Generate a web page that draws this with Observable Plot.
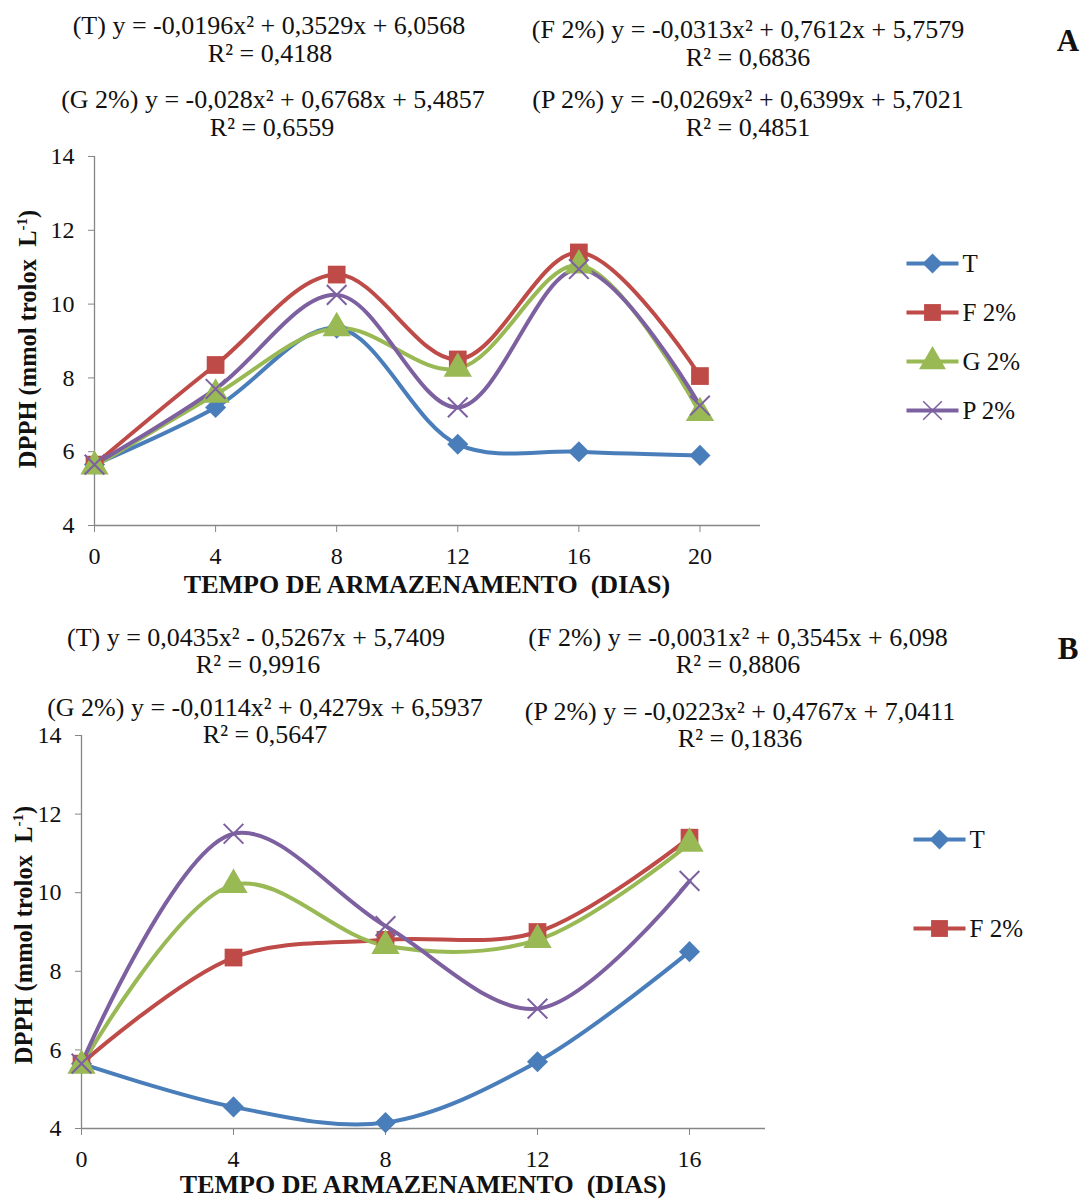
<!DOCTYPE html>
<html>
<head>
<meta charset="utf-8">
<script src="https://cdn.jsdelivr.net/npm/d3@7"></script>
<script src="https://cdn.jsdelivr.net/npm/@observablehq/plot@0.6"></script>
<style>
  html, body { margin: 0; padding: 0; background: #fff; }
  #page { position: relative; width: 1084px; height: 1200px; overflow: hidden; font-family: "Liberation Serif", "Times New Roman", serif; color: #111; }
  .ctr { position: absolute; transform: translate(-50%, -50%); white-space: nowrap; font-size: 26px; line-height: 1.1; z-index: 5; }
  .panel { position: absolute; transform: translate(-50%, -50%); font-weight: bold; font-size: 31px; line-height: 1; z-index: 5; }
  .xt { position: absolute; transform: translate(-50%, -50%); white-space: nowrap; font-weight: bold; font-size: 26px; line-height: 1; z-index: 5; }
  .yt { position: absolute; transform: translate(-50%, -50%) rotate(-90deg); white-space: nowrap; font-weight: bold; font-size: 24.5px; line-height: 1; z-index: 5; }
  .yt sup { font-size: 15px; }
</style>
</head>
<body>
<div id="page"></div>
<script>
// ---------- data ----------
const seriesNames = ["T", "F 2%", "G 2%", "P 2%"];
const seriesColors = ["#4A7EBB", "#BE4B48", "#98B954", "#7D60A0"];
const seriesSymbols = ["diamond2", "square", "triangle", "times"];

// Panel A
const daysA = [0, 4, 8, 12, 16, 20];
const tA = [5.65, 7.2, 9.35, 6.2, 6.0, 5.9];
const fA = [5.65, 8.35, 10.8, 8.5, 11.4, 8.05];
const gA = [5.6, 7.55, 9.35, 8.25, 11.05, 7.05];
const pA = [5.65, 7.7, 10.25, 7.2, 10.95, 7.25];

// Panel B
const daysB = [0, 4, 8, 12, 16];
const tB = [5.65, 4.55, 4.15, 5.7, 8.5];
const fB = [5.65, 8.35, 8.8, 9.0, 11.4];
const gB = [5.6, 10.2, 8.65, 8.8, 11.25];
const pB = [5.65, 11.5, 9.15, 7.05, 10.3];

const yTicks = [4, 6, 8, 10, 12, 14];
const xTicksA = [0, 4, 8, 12, 16, 20];
const xTicksB = [0, 4, 8, 12, 16];

const eqA = [
  "(T) y = -0,0196x² + 0,3529x + 6,0568", "R² = 0,4188",
  "(F 2%) y = -0,0313x² + 0,7612x + 5,7579", "R² = 0,6836",
  "(G 2%) y = -0,028x² + 0,6768x + 5,4857", "R² = 0,6559",
  "(P 2%) y = -0,0269x² + 0,6399x + 5,7021", "R² = 0,4851"
];
const eqB = [
  "(T) y = 0,0435x² - 0,5267x + 5,7409", "R² = 0,9916",
  "(F 2%) y = -0,0031x² + 0,3545x + 6,098", "R² = 0,8806",
  "(G 2%) y = -0,0114x² + 0,4279x + 6,5937", "R² = 0,5647",
  "(P 2%) y = -0,0223x² + 0,4767x + 7,0411", "R² = 0,1836"
];
const xTitle = "TEMPO DE ARMAZENAMENTO&nbsp; (DIAS)";

// ---------- helpers ----------
const page = document.getElementById("page");
function addText(cls, html, x, y) {
  const d = document.createElement("div");
  d.className = cls;
  d.innerHTML = html;
  d.style.left = x + "px";
  d.style.top = y + "px";
  page.appendChild(d);
  return d;
}
function place(node, left, top) {
  node.style.position = "absolute";
  node.style.left = left + "px";
  node.style.top = top + "px";
  page.appendChild(node);
}
function rows(days, vals) {
  return days.map((d, i) => ({day: d, v: vals[i]}));
}
function symR(sym) {
  return sym === "square" ? 10 : sym === "triangle" ? 10.5 : sym === "diamond2" ? 9.5 : 9;
}

function lineMarks(days, seriesVals) {
  const marks = [];
  seriesVals.forEach((vals, i) => {
    marks.push(Plot.line(rows(days, vals), {x: "day", y: "v", stroke: seriesColors[i], strokeWidth: 4, curve: "catmull-rom"}));
  });
  seriesVals.forEach((vals, i) => {
    const sym = seriesSymbols[i];
    const stroked = sym === "times";
    marks.push(Plot.dot(rows(days, vals), {
      x: "day", y: "v", symbol: sym, r: symR(sym),
      fill: stroked ? "none" : seriesColors[i],
      stroke: stroked ? seriesColors[i] : "none",
      strokeWidth: stroked ? 2 : 0
    }));
  });
  return marks;
}

function panelPlot(opts) {
  const svg = Plot.plot({
    width: opts.width, height: opts.height,
    marginLeft: opts.ml, marginRight: opts.mr, marginTop: opts.mt, marginBottom: opts.mb,
    style: {fontFamily: "'Liberation Serif', 'Times New Roman', serif", fontSize: "24px", color: "#111", background: "transparent"},
    x: {domain: opts.xDomain, ticks: opts.xTicks, tickSize: 7, tickPadding: 14, label: null, tickFormat: d => d},
    y: {domain: [4, 14], ticks: yTicks, tickSize: 6, tickPadding: 14, label: null, tickFormat: d => d},
    marks: [
      Plot.ruleY([4], {stroke: "#868686", strokeWidth: 1.3}),
      Plot.ruleX([0], {stroke: "#868686", strokeWidth: 1.3}),
      ...lineMarks(opts.days, opts.series)
    ]
  });
  // make sure the tick labels use the serif face at the right size, and ticks are grey
  svg.querySelectorAll("text").forEach(t => {
    t.style.fontFamily = "'Liberation Serif', 'Times New Roman', serif";
    t.style.fontSize = "24px";
    t.style.fill = "#111";
  });
  svg.querySelectorAll("g[aria-label*='axis'] line, g[aria-label*='axis'] path").forEach(l => {
    l.style.stroke = "#868686";
  });
  return svg;
}

function legendPlot(names, opts) {
  const marks = [];
  names.forEach((n, i) => {
    const one = [n];
    marks.push(Plot.link(one, {x1: 0, x2: 1, y1: d => d, y2: d => d, stroke: seriesColors[i], strokeWidth: 4}));
    const sym = seriesSymbols[i];
    const stroked = sym === "times";
    marks.push(Plot.dot(one, {x: 0.5, y: d => d, symbol: sym, r: symR(sym) - 0.5,
      fill: stroked ? "none" : seriesColors[i],
      stroke: stroked ? seriesColors[i] : "none", strokeWidth: stroked ? 1.5 : 0}));
    marks.push(Plot.text(one, {x: 1, y: d => d, text: d => d, dx: 4, textAnchor: "start", fill: "#111", fontSize: 25}));
  });
  return Plot.plot({
    width: opts.width, height: opts.height, margin: 0,
    style: {fontFamily: "'Liberation Serif', 'Times New Roman', serif", background: "transparent"},
    x: {domain: [0, 1], range: opts.xRange, axis: null},
    y: {type: "point", domain: names, range: opts.yRange, padding: 0, axis: null},
    marks
  });
}

// ---------- Panel A ----------
const plotA = panelPlot({
  width: 780, height: 460, ml: 94, mr: 20, mt: 16, mb: 75,
  xDomain: [0, 22], xTicks: xTicksA, days: daysA, series: [tA, fA, gA, pA]
});
place(plotA, 0, 140);
place(legendPlot(seriesNames, {width: 180, height: 200, xRange: [16, 68], yRange: [32, 181]}), 890, 230);

addText("ctr", eqA[0], 269, 26);
addText("ctr", eqA[1], 270, 54);
addText("ctr", eqA[2], 748, 30);
addText("ctr", eqA[3], 748, 58);
addText("ctr", eqA[4], 273, 100);
addText("ctr", eqA[5], 272, 128);
addText("ctr", eqA[6], 748, 100);
addText("ctr", eqA[7], 748, 128);
addText("panel", "A", 1068, 40);
addText("xt", xTitle, 427, 585);
addText("yt", "DPPH (mmol trolox&nbsp; L<sup>-1</sup>)", 28, 339);

// ---------- Panel B ----------
const plotB = panelPlot({
  width: 785, height: 480, ml: 81, mr: 20, mt: 15, mb: 72,
  xDomain: [0, 18], xTicks: xTicksB, days: daysB, series: [tB, fB, gB, pB]
});
place(plotB, 0, 720);
place(legendPlot(["T", "F 2%"], {width: 180, height: 160, xRange: [23, 75], yRange: [39, 128]}), 890, 800);

addText("ctr", eqB[0], 256, 638);
addText("ctr", eqB[1], 258, 665);
addText("ctr", eqB[2], 738, 638);
addText("ctr", eqB[3], 738, 665);
addText("ctr", eqB[4], 265, 708);
addText("ctr", eqB[5], 265, 735);
addText("ctr", eqB[6], 740, 712);
addText("ctr", eqB[7], 740, 739);
addText("panel", "B", 1068, 648);
addText("xt", xTitle, 423, 1185);
addText("yt", "DPPH (mmol trolox&nbsp; L<sup>-1</sup>)", 24, 935);
</script>
</body>
</html>
